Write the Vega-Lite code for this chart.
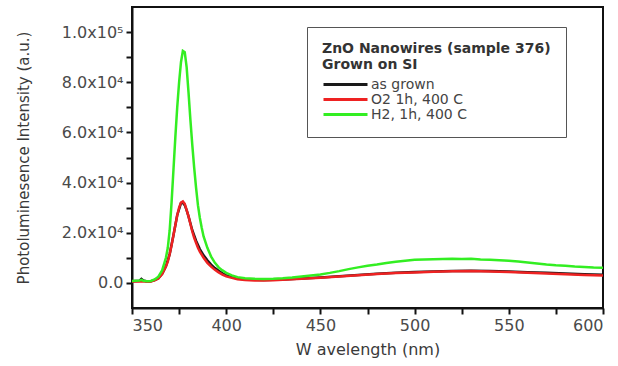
{
  "$schema": "https://vega.github.io/schema/vega-lite/v6.json",
  "autosize": "none",
  "width": 471,
  "height": 301,
  "padding": {"left": 132, "top": 7, "right": 15, "bottom": 58},
  "background": "white",
  "config": {
    "view": {"stroke": "#111", "strokeWidth": 2},
    "font": "DejaVu Sans"
  },
  "data": {"values": [
    {"s":"as grown","w":350,"v":700},{"s":"as grown","w":354,"v":900},{"s":"as grown","w":355,"v":1600},{"s":"as grown","w":356,"v":1000},{"s":"as grown","w":358,"v":600},{"s":"as grown","w":360,"v":700},{"s":"as grown","w":362,"v":1100},{"s":"as grown","w":364,"v":1900},{"s":"as grown","w":366,"v":3600},{"s":"as grown","w":368,"v":6600},{"s":"as grown","w":370,"v":11500},{"s":"as grown","w":372,"v":19000},{"s":"as grown","w":374,"v":27000},{"s":"as grown","w":376,"v":31800},{"s":"as grown","w":377,"v":32000},{"s":"as grown","w":378,"v":31000},{"s":"as grown","w":379,"v":29000},{"s":"as grown","w":380,"v":26500},{"s":"as grown","w":382,"v":21000},{"s":"as grown","w":384,"v":16800},{"s":"as grown","w":386,"v":13500},{"s":"as grown","w":388,"v":11000},{"s":"as grown","w":390,"v":9000},{"s":"as grown","w":392,"v":7300},{"s":"as grown","w":394,"v":5900},{"s":"as grown","w":396,"v":4800},{"s":"as grown","w":398,"v":3800},{"s":"as grown","w":400,"v":3000},{"s":"as grown","w":403,"v":2300},{"s":"as grown","w":406,"v":1800},{"s":"as grown","w":410,"v":1500},{"s":"as grown","w":415,"v":1300},{"s":"as grown","w":420,"v":1200},{"s":"as grown","w":430,"v":1400},{"s":"as grown","w":440,"v":1800},{"s":"as grown","w":450,"v":2200},{"s":"as grown","w":460,"v":2700},{"s":"as grown","w":470,"v":3200},{"s":"as grown","w":480,"v":3700},{"s":"as grown","w":490,"v":4100},{"s":"as grown","w":500,"v":4400},{"s":"as grown","w":510,"v":4600},{"s":"as grown","w":520,"v":4800},{"s":"as grown","w":530,"v":4900},{"s":"as grown","w":540,"v":4800},{"s":"as grown","w":550,"v":4600},{"s":"as grown","w":560,"v":4300},{"s":"as grown","w":570,"v":4100},{"s":"as grown","w":580,"v":3800},{"s":"as grown","w":590,"v":3500},{"s":"as grown","w":600,"v":3300},
    {"s":"O2 1h, 400 C","w":350,"v":600},{"s":"O2 1h, 400 C","w":355,"v":700},{"s":"O2 1h, 400 C","w":358,"v":500},{"s":"O2 1h, 400 C","w":360,"v":600},{"s":"O2 1h, 400 C","w":362,"v":1000},{"s":"O2 1h, 400 C","w":364,"v":1800},{"s":"O2 1h, 400 C","w":366,"v":3500},{"s":"O2 1h, 400 C","w":368,"v":6500},{"s":"O2 1h, 400 C","w":369,"v":8500},{"s":"O2 1h, 400 C","w":370,"v":11500},{"s":"O2 1h, 400 C","w":371,"v":15000},{"s":"O2 1h, 400 C","w":372,"v":19000},{"s":"O2 1h, 400 C","w":373,"v":23000},{"s":"O2 1h, 400 C","w":374,"v":27000},{"s":"O2 1h, 400 C","w":375,"v":30000},{"s":"O2 1h, 400 C","w":376,"v":32000},{"s":"O2 1h, 400 C","w":377,"v":32500},{"s":"O2 1h, 400 C","w":378,"v":31500},{"s":"O2 1h, 400 C","w":379,"v":29000},{"s":"O2 1h, 400 C","w":380,"v":26500},{"s":"O2 1h, 400 C","w":381,"v":23500},{"s":"O2 1h, 400 C","w":382,"v":20500},{"s":"O2 1h, 400 C","w":383,"v":18000},{"s":"O2 1h, 400 C","w":384,"v":16000},{"s":"O2 1h, 400 C","w":385,"v":14000},{"s":"O2 1h, 400 C","w":386,"v":12500},{"s":"O2 1h, 400 C","w":388,"v":10000},{"s":"O2 1h, 400 C","w":390,"v":8000},{"s":"O2 1h, 400 C","w":392,"v":6500},{"s":"O2 1h, 400 C","w":394,"v":5200},{"s":"O2 1h, 400 C","w":396,"v":4200},{"s":"O2 1h, 400 C","w":398,"v":3300},{"s":"O2 1h, 400 C","w":400,"v":2600},{"s":"O2 1h, 400 C","w":403,"v":2000},{"s":"O2 1h, 400 C","w":406,"v":1500},{"s":"O2 1h, 400 C","w":410,"v":1200},{"s":"O2 1h, 400 C","w":415,"v":1000},{"s":"O2 1h, 400 C","w":420,"v":1000},{"s":"O2 1h, 400 C","w":425,"v":1100},{"s":"O2 1h, 400 C","w":430,"v":1300},{"s":"O2 1h, 400 C","w":435,"v":1500},{"s":"O2 1h, 400 C","w":440,"v":1700},{"s":"O2 1h, 400 C","w":445,"v":1900},{"s":"O2 1h, 400 C","w":450,"v":2100},{"s":"O2 1h, 400 C","w":460,"v":2600},{"s":"O2 1h, 400 C","w":470,"v":3100},{"s":"O2 1h, 400 C","w":480,"v":3600},{"s":"O2 1h, 400 C","w":490,"v":4000},{"s":"O2 1h, 400 C","w":500,"v":4200},{"s":"O2 1h, 400 C","w":510,"v":4500},{"s":"O2 1h, 400 C","w":520,"v":4700},{"s":"O2 1h, 400 C","w":530,"v":4800},{"s":"O2 1h, 400 C","w":540,"v":4600},{"s":"O2 1h, 400 C","w":550,"v":4400},{"s":"O2 1h, 400 C","w":560,"v":4100},{"s":"O2 1h, 400 C","w":570,"v":3800},{"s":"O2 1h, 400 C","w":580,"v":3500},{"s":"O2 1h, 400 C","w":590,"v":3200},{"s":"O2 1h, 400 C","w":600,"v":3000},
    {"s":"H2, 1h, 400 C","w":350,"v":800},{"s":"H2, 1h, 400 C","w":352,"v":900},{"s":"H2, 1h, 400 C","w":354,"v":1000},{"s":"H2, 1h, 400 C","w":355,"v":1200},{"s":"H2, 1h, 400 C","w":356,"v":900},{"s":"H2, 1h, 400 C","w":358,"v":700},{"s":"H2, 1h, 400 C","w":360,"v":800},{"s":"H2, 1h, 400 C","w":362,"v":1400},{"s":"H2, 1h, 400 C","w":364,"v":2500},{"s":"H2, 1h, 400 C","w":366,"v":5000},{"s":"H2, 1h, 400 C","w":368,"v":10000},{"s":"H2, 1h, 400 C","w":369,"v":14000},{"s":"H2, 1h, 400 C","w":370,"v":21000},{"s":"H2, 1h, 400 C","w":371,"v":32000},{"s":"H2, 1h, 400 C","w":372,"v":45000},{"s":"H2, 1h, 400 C","w":373,"v":58000},{"s":"H2, 1h, 400 C","w":374,"v":70000},{"s":"H2, 1h, 400 C","w":375,"v":80000},{"s":"H2, 1h, 400 C","w":376,"v":88000},{"s":"H2, 1h, 400 C","w":377,"v":92500},{"s":"H2, 1h, 400 C","w":378,"v":92000},{"s":"H2, 1h, 400 C","w":379,"v":86000},{"s":"H2, 1h, 400 C","w":380,"v":76000},{"s":"H2, 1h, 400 C","w":381,"v":65000},{"s":"H2, 1h, 400 C","w":382,"v":55000},{"s":"H2, 1h, 400 C","w":383,"v":46000},{"s":"H2, 1h, 400 C","w":384,"v":38000},{"s":"H2, 1h, 400 C","w":385,"v":31000},{"s":"H2, 1h, 400 C","w":386,"v":26000},{"s":"H2, 1h, 400 C","w":387,"v":22000},{"s":"H2, 1h, 400 C","w":388,"v":18500},{"s":"H2, 1h, 400 C","w":390,"v":14000},{"s":"H2, 1h, 400 C","w":392,"v":10500},{"s":"H2, 1h, 400 C","w":394,"v":8000},{"s":"H2, 1h, 400 C","w":396,"v":6200},{"s":"H2, 1h, 400 C","w":398,"v":5000},{"s":"H2, 1h, 400 C","w":400,"v":4000},{"s":"H2, 1h, 400 C","w":403,"v":3000},{"s":"H2, 1h, 400 C","w":406,"v":2300},{"s":"H2, 1h, 400 C","w":410,"v":1900},{"s":"H2, 1h, 400 C","w":415,"v":1700},{"s":"H2, 1h, 400 C","w":420,"v":1600},{"s":"H2, 1h, 400 C","w":425,"v":1700},{"s":"H2, 1h, 400 C","w":430,"v":1900},{"s":"H2, 1h, 400 C","w":435,"v":2200},{"s":"H2, 1h, 400 C","w":440,"v":2600},{"s":"H2, 1h, 400 C","w":445,"v":3000},{"s":"H2, 1h, 400 C","w":450,"v":3400},{"s":"H2, 1h, 400 C","w":455,"v":4000},{"s":"H2, 1h, 400 C","w":460,"v":4700},{"s":"H2, 1h, 400 C","w":465,"v":5500},{"s":"H2, 1h, 400 C","w":470,"v":6200},{"s":"H2, 1h, 400 C","w":475,"v":6800},{"s":"H2, 1h, 400 C","w":480,"v":7300},{"s":"H2, 1h, 400 C","w":485,"v":7900},{"s":"H2, 1h, 400 C","w":490,"v":8400},{"s":"H2, 1h, 400 C","w":495,"v":8800},{"s":"H2, 1h, 400 C","w":500,"v":9200},{"s":"H2, 1h, 400 C","w":505,"v":9300},{"s":"H2, 1h, 400 C","w":510,"v":9400},{"s":"H2, 1h, 400 C","w":515,"v":9500},{"s":"H2, 1h, 400 C","w":520,"v":9600},{"s":"H2, 1h, 400 C","w":525,"v":9500},{"s":"H2, 1h, 400 C","w":530,"v":9600},{"s":"H2, 1h, 400 C","w":535,"v":9300},{"s":"H2, 1h, 400 C","w":540,"v":9200},{"s":"H2, 1h, 400 C","w":545,"v":9000},{"s":"H2, 1h, 400 C","w":550,"v":8800},{"s":"H2, 1h, 400 C","w":555,"v":8500},{"s":"H2, 1h, 400 C","w":560,"v":8100},{"s":"H2, 1h, 400 C","w":565,"v":7700},{"s":"H2, 1h, 400 C","w":570,"v":7300},{"s":"H2, 1h, 400 C","w":575,"v":7000},{"s":"H2, 1h, 400 C","w":580,"v":6800},{"s":"H2, 1h, 400 C","w":585,"v":6500},{"s":"H2, 1h, 400 C","w":590,"v":6300},{"s":"H2, 1h, 400 C","w":595,"v":6100},{"s":"H2, 1h, 400 C","w":600,"v":6000}
  ]},
  "mark": {"type": "line", "strokeWidth": 2.5, "clip": true},
  "encoding": {
    "x": {
      "field": "w", "type": "quantitative",
      "scale": {"domain": [350, 600], "nice": false, "zero": false},
      "axis": {
        "title": "W avelength (nm)",
        "values": [350, 375, 400, 425, 450, 475, 500, 525, 550, 575, 600],
        "labelExpr": "datum.value % 50 == 0 ? datum.label : ''",
        "grid": false,
        "domainColor": "#111", "domainWidth": 2,
        "tickColor": "#111", "tickWidth": 2, "tickSize": 6,
        "labelFont": "DejaVu Sans", "labelFontSize": 16, "labelColor": "#4a4a4a", "labelPadding": 3,
        "titleFont": "DejaVu Sans", "titleFontSize": 16, "titleFontWeight": "normal", "titleColor": "#3a3a3a", "titlePadding": 8
      }
    },
    "y": {
      "field": "v", "type": "quantitative",
      "scale": {"domain": [-10000, 110000], "nice": false, "zero": false},
      "axis": {
        "title": "Photoluminesence Intensity (a.u.)",
        "values": [0, 10000, 20000, 30000, 40000, 50000, 60000, 70000, 80000, 90000, 100000],
        "labelExpr": "datum.value == 0 ? '0.0' : datum.value == 20000 ? '2.0x10⁴' : datum.value == 40000 ? '4.0x10⁴' : datum.value == 60000 ? '6.0x10⁴' : datum.value == 80000 ? '8.0x10⁴' : datum.value == 100000 ? '1.0x10⁵' : ''",
        "grid": false,
        "domainColor": "#111", "domainWidth": 2,
        "tickColor": "#111", "tickWidth": 2, "tickSize": 6,
        "labelFont": "DejaVu Sans", "labelFontSize": 16, "labelColor": "#4a4a4a", "labelPadding": 3,
        "titleFont": "DejaVu Sans", "titleFontSize": 15, "titleFontWeight": "normal", "titleColor": "#3a3a3a", "titlePadding": 30
      }
    },
    "color": {
      "field": "s", "type": "nominal",
      "scale": {"domain": ["as grown", "O2 1h, 400 C", "H2, 1h, 400 C"], "range": ["#1a1a1a", "#ee2222", "#33ee22"]},
      "legend": {
        "orient": "none", "legendX": 175, "legendY": 20,
        "title": ["ZnO Nanowires (sample 376)", "Grown on SI"],
        "titleLimit": 400,
        "titleFont": "DejaVu Sans", "titleFontSize": 14, "titleFontWeight": "bold", "titleColor": "#333", "titleLineHeight": 16, "titlePadding": 6,
        "labelFont": "DejaVu Sans", "labelFontSize": 14, "labelColor": "#444",
        "symbolType": "M-1,0H3", "symbolSize": 484, "symbolStrokeWidth": 3, "symbolFillColor": "transparent",
        "clipHeight": 13,
        "strokeColor": "#555", "fillColor": "white", "padding": 15,
        "labelOffset": 24,
        "rowPadding": 0
      }
    }
  }
}
